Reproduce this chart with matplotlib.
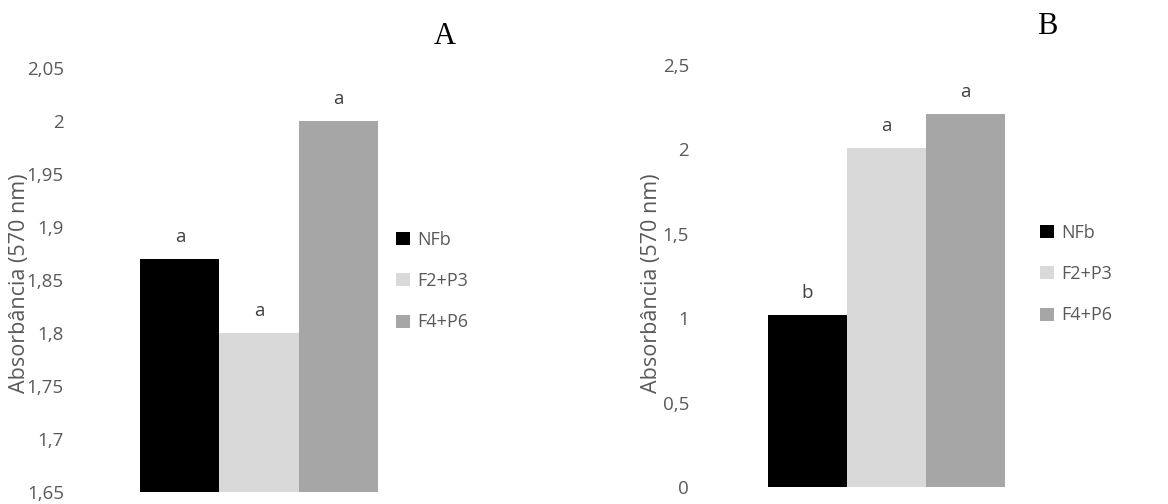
import matplotlib.pyplot as plt
from matplotlib.ticker import FuncFormatter

# ------------------------------------------
# Data
# ------------------------------------------

groups = ["NFb", "F2+P3", "F4+P6"]
colors = ["#000000", "#d9d9d9", "#a6a6a6"]

values_a = [1.87, 1.80, 2.00]
letters_a = ["a", "a", "a"]
ticks_a = [1.65, 1.7, 1.75, 1.8, 1.85, 1.9, 1.95, 2.0, 2.05]

values_b = [1.02, 2.01, 2.21]
letters_b = ["b", "a", "a"]
ticks_b = [0, 0.5, 1, 1.5, 2, 2.5]

ylabel = "Absorbância (570 nm)"

plt.rcParams["font.family"] = ["Open Sans", "DejaVu Sans"]
gray_txt = "#595959"

W, H = 1168, 504
fig = plt.figure(figsize=(W / 100, H / 100), dpi=100)


def comma_fmt(v, pos):
    s = ("%.2f" % v).rstrip("0").rstrip(".")
    return s.replace(".", ",")


def panel(rect, xlim, ylim, values, letters, ticks, label_x, leg_xy, tag, tag_xy):
    ax = fig.add_axes(rect)
    bars = ax.bar(range(3), [v - ylim[0] for v in values], bottom=ylim[0],
                  width=1.0, color=colors, label=groups)
    for i, (v, t) in enumerate(zip(values, letters)):
        ax.annotate(t, (i, v), xytext=(0, 9), textcoords="offset points",
                    ha="center", va="bottom", fontsize=13.5, color="#404040")
    ax.set_xlim(*xlim)
    ax.set_ylim(*ylim)
    ax.set_yticks(ticks)
    ax.yaxis.set_major_formatter(FuncFormatter(comma_fmt))
    ax.set_xticks([])
    ax.tick_params(axis="y", length=0, labelsize=13.5, labelcolor=gray_txt, pad=8)
    for s in ax.spines.values():
        s.set_visible(False)
    fig.text(label_x / W, 1 - 283 / H, ylabel, rotation=90, ha="center",
             va="center", fontsize=15.5, color=gray_txt)
    ax.legend(bars, groups, loc="center left",
              bbox_to_anchor=(leg_xy[0] / W, 1 - leg_xy[1] / H),
              bbox_transform=fig.transFigure, frameon=False,
              handlelength=0.75, handleheight=0.75, handletextpad=0.4,
              labelspacing=1.3, borderpad=0, borderaxespad=0,
              fontsize=13, labelcolor=gray_txt)
    fig.text(tag_xy[0] / W, 1 - tag_xy[1] / H, tag, ha="center", va="center",
             fontsize=22, family="Liberation Serif", color="black")
    return ax


# Panel A
panel([75 / W, 1 - 492 / H, 365 / W, 424 / H], (-1.329, 3.291), (1.65, 2.05),
      values_a, letters_a, ticks_a, 20, (396, 281), "A", (445, 36))

# Panel B
panel([700 / W, 1 - 487 / H, 320 / W, 422 / H], (-1.361, 2.69), (0, 2.5),
      values_b, letters_b, ticks_b, 652, (1040, 274), "B", (1047, 27))

fig.savefig("out.png", dpi=100)
